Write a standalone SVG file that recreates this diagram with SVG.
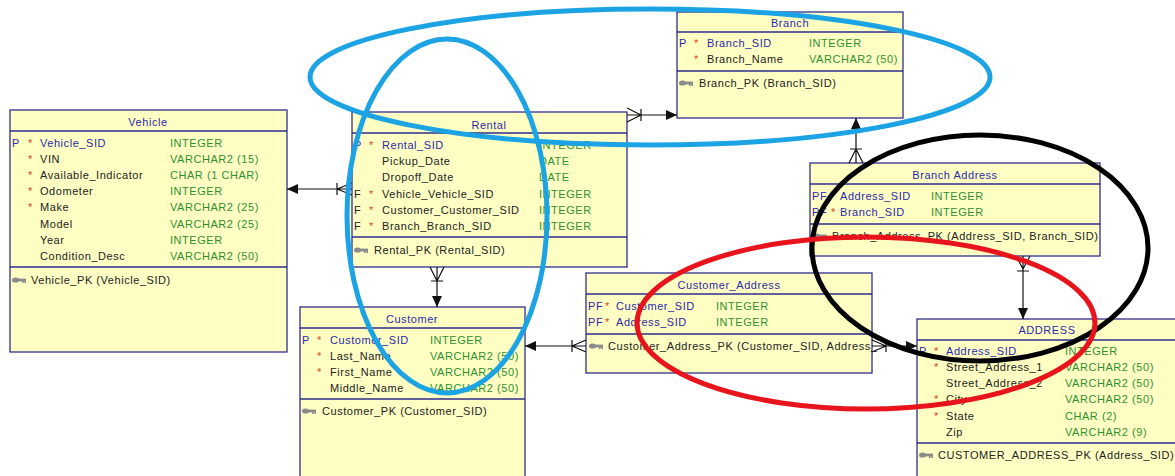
<svg xmlns="http://www.w3.org/2000/svg" width="1175" height="476" viewBox="0 0 1175 476">
  <style>
    .box { fill: #ffffc4; stroke: #2e2e8e; stroke-width: 1.3; }
    .sep { stroke: #2e2e8e; stroke-width: 1.3; }
    text { font-family: "Liberation Sans", Arial, sans-serif; font-size: 11px; letter-spacing: 0.55px; }
    .title { fill: #2a2aa8; text-anchor: middle; }
    .pkname { fill: #2a2aa8; }
    .name { fill: #222; }
    .type { fill: #2f8f2f; }
    .flag { fill: #2a2aa8; }
    .fflag { fill: #222; }
    .star { fill: #d8461e; }
    .key { fill: #222; }
    .conn { stroke: #111; stroke-width: 1.2; fill: none; }
    .head { fill: #111; }
    .mark { fill: none; stroke-width: 5; }
  </style>
  <defs>
    <!-- small key glyph used before primary-key constraints -->
    <g id="keyicon">
      <ellipse cx="3.5" cy="0" rx="3.5" ry="2.6" fill="#8a8a8a"/>
      <rect x="5" y="-1.4" width="9" height="2.8" fill="#8a8a8a"/>
      <rect x="10" y="1" width="1.6" height="2" fill="#8a8a8a"/>
      <rect x="12.4" y="1" width="1.6" height="2" fill="#8a8a8a"/>
    </g>
  </defs>
  <rect width="1175" height="476" fill="#ffffff"/>

  <!-- Vehicle -->
  <g id="vehicle">
    <rect class="box" x="10" y="110" width="277" height="242"/>
    <line class="sep" x1="10" y1="131" x2="287" y2="131"/>
    <line class="sep" x1="10" y1="267" x2="287" y2="267"/>
    <text class="title" x="148" y="126">Vehicle</text>
    <text class="flag" x="12" y="147">P</text>
    <text class="star" x="28" y="147">*</text><text class="pkname" x="40" y="147">Vehicle_SID</text><text class="type" x="170" y="147">INTEGER</text>
    <text class="star" x="28" y="163">*</text><text class="name" x="40" y="163">VIN</text><text class="type" x="170" y="163">VARCHAR2 (15)</text>
    <text class="star" x="28" y="179">*</text><text class="name" x="40" y="179">Available_Indicator</text><text class="type" x="170" y="179">CHAR (1 CHAR)</text>
    <text class="star" x="28" y="195">*</text><text class="name" x="40" y="195">Odometer</text><text class="type" x="170" y="195">INTEGER</text>
    <text class="star" x="28" y="211">*</text><text class="name" x="40" y="211">Make</text><text class="type" x="170" y="211">VARCHAR2 (25)</text>
    <text class="name" x="40" y="228">Model</text><text class="type" x="170" y="228">VARCHAR2 (25)</text>
    <text class="name" x="40" y="244">Year</text><text class="type" x="170" y="244">INTEGER</text>
    <text class="name" x="40" y="260">Condition_Desc</text><text class="type" x="170" y="260">VARCHAR2 (50)</text>
    <use href="#keyicon" x="12" y="280"/>
    <text class="key" x="31" y="284">Vehicle_PK (Vehicle_SID)</text>
  </g>

  <!-- Rental -->
  <g id="rental">
    <rect class="box" x="352" y="112" width="275" height="155"/>
    <line class="sep" x1="352" y1="133" x2="627" y2="133"/>
    <line class="sep" x1="352" y1="237" x2="627" y2="237"/>
    <text class="title" x="489" y="129">Rental</text>
    <text class="flag" x="354" y="149">P</text>
    <text class="star" x="369" y="149">*</text><text class="pkname" x="382" y="149">Rental_SID</text><text class="type" x="539" y="149">INTEGER</text>
    <text class="name" x="382" y="165">Pickup_Date</text><text class="type" x="539" y="165">DATE</text>
    <text class="name" x="382" y="181">Dropoff_Date</text><text class="type" x="539" y="181">DATE</text>
    <text class="fflag" x="354" y="198">F</text><text class="star" x="369" y="198">*</text><text class="name" x="382" y="198">Vehicle_Vehicle_SID</text><text class="type" x="539" y="198">INTEGER</text>
    <text class="fflag" x="354" y="214">F</text><text class="star" x="369" y="214">*</text><text class="name" x="382" y="214">Customer_Customer_SID</text><text class="type" x="539" y="214">INTEGER</text>
    <text class="fflag" x="354" y="230">F</text><text class="star" x="369" y="230">*</text><text class="name" x="382" y="230">Branch_Branch_SID</text><text class="type" x="539" y="230">INTEGER</text>
    <use href="#keyicon" x="354" y="250"/>
    <text class="key" x="374" y="254">Rental_PK (Rental_SID)</text>
  </g>

  <!-- Branch -->
  <g id="branch">
    <rect class="box" x="677" y="12" width="226" height="106"/>
    <line class="sep" x1="677" y1="32" x2="903" y2="32"/>
    <line class="sep" x1="677" y1="71" x2="903" y2="71"/>
    <text class="title" x="790" y="27">Branch</text>
    <text class="flag" x="679" y="47">P</text>
    <text class="star" x="694" y="47">*</text><text class="pkname" x="707" y="47">Branch_SID</text><text class="type" x="809" y="47">INTEGER</text>
    <text class="star" x="694" y="63">*</text><text class="name" x="707" y="63">Branch_Name</text><text class="type" x="809" y="63">VARCHAR2 (50)</text>
    <use href="#keyicon" x="679" y="83"/>
    <text class="key" x="699" y="87">Branch_PK (Branch_SID)</text>
  </g>

  <!-- Branch Address -->
  <g id="branch-address">
    <rect class="box" x="810" y="163" width="290" height="93"/>
    <line class="sep" x1="810" y1="184" x2="1100" y2="184"/>
    <line class="sep" x1="810" y1="224" x2="1100" y2="224"/>
    <text class="title" x="955" y="179">Branch Address</text>
    <text class="flag" x="812" y="200">PF</text><text class="star" x="831" y="200">*</text><text class="pkname" x="840" y="200">Address_SID</text><text class="type" x="931" y="200">INTEGER</text>
    <text class="flag" x="812" y="216">PF</text><text class="star" x="831" y="216">*</text><text class="pkname" x="840" y="216">Branch_SID</text><text class="type" x="931" y="216">INTEGER</text>
    <use href="#keyicon" x="813" y="236"/>
    <text class="key" x="832" y="240">Branch_Address_PK (Address_SID, Branch_SID)</text>
  </g>

  <!-- Customer -->
  <g id="customer">
    <rect class="box" x="300" y="307" width="225" height="200"/>
    <line class="sep" x1="300" y1="328" x2="525" y2="328"/>
    <line class="sep" x1="300" y1="399" x2="525" y2="399"/>
    <text class="title" x="412" y="323">Customer</text>
    <text class="flag" x="302" y="344">P</text>
    <text class="star" x="317" y="344">*</text><text class="pkname" x="330" y="344">Customer_SID</text><text class="type" x="430" y="344">INTEGER</text>
    <text class="star" x="317" y="360">*</text><text class="name" x="330" y="360">Last_Name</text><text class="type" x="430" y="360">VARCHAR2 (50)</text>
    <text class="star" x="317" y="376">*</text><text class="name" x="330" y="376">First_Name</text><text class="type" x="430" y="376">VARCHAR2 (50)</text>
    <text class="name" x="330" y="392">Middle_Name</text><text class="type" x="430" y="392">VARCHAR2 (50)</text>
    <use href="#keyicon" x="302" y="411"/>
    <text class="key" x="322" y="415">Customer_PK (Customer_SID)</text>
  </g>

  <!-- Customer_Address -->
  <g id="customer-address">
    <rect class="box" x="586" y="273" width="286" height="100"/>
    <line class="sep" x1="586" y1="294" x2="872" y2="294"/>
    <line class="sep" x1="586" y1="334" x2="872" y2="334"/>
    <text class="title" x="729" y="289">Customer_Address</text>
    <text class="flag" x="588" y="310">PF</text><text class="star" x="605" y="310">*</text><text class="pkname" x="616" y="310">Customer_SID</text><text class="type" x="716" y="310">INTEGER</text>
    <text class="flag" x="588" y="326">PF</text><text class="star" x="605" y="326">*</text><text class="pkname" x="616" y="326">Address_SID</text><text class="type" x="716" y="326">INTEGER</text>
    <use href="#keyicon" x="589" y="346"/>
    <text class="key" x="608" y="350">Customer_Address_PK (Customer_SID, Address_</text>
  </g>

  <!-- ADDRESS -->
  <g id="address">
    <rect class="box" x="917" y="319" width="300" height="200"/>
    <line class="sep" x1="917" y1="340" x2="1217" y2="340"/>
    <line class="sep" x1="917" y1="443" x2="1217" y2="443"/>
    <text class="title" x="1047" y="334">ADDRESS</text>
    <text class="flag" x="919" y="355">P</text>
    <text class="star" x="934" y="355">*</text><text class="pkname" x="946" y="355">Address_SID</text><text class="type" x="1065" y="355">INTEGER</text>
    <text class="star" x="934" y="371">*</text><text class="name" x="946" y="371">Street_Address_1</text><text class="type" x="1065" y="371">VARCHAR2 (50)</text>
    <text class="name" x="946" y="387">Street_Address_2</text><text class="type" x="1065" y="387">VARCHAR2 (50)</text>
    <text class="star" x="934" y="403">*</text><text class="name" x="946" y="403">City</text><text class="type" x="1065" y="403">VARCHAR2 (50)</text>
    <text class="star" x="934" y="420">*</text><text class="name" x="946" y="420">State</text><text class="type" x="1065" y="420">CHAR (2)</text>
    <text class="name" x="946" y="436">Zip</text><text class="type" x="1065" y="436">VARCHAR2 (9)</text>
    <use href="#keyicon" x="919" y="455"/>
    <text class="key" x="938" y="459">CUSTOMER_ADDRESS_PK (Address_SID)</text>
  </g>

  <!-- Relationships: crow's foot on the many side, filled arrow on the referenced side -->
  <g id="connectors">
    <!-- Rental to Vehicle -->
    <path class="conn" d="M287 189 H352 M337 183 V195 M337 189 L352 183 M337 189 L352 195"/>
    <path class="head" d="M287 189 L298 184 L298 194 Z"/>
    <!-- Rental to Branch -->
    <path class="conn" d="M627 115 H677 M641 109 V121 M641 115 L627 108 M641 115 L627 122"/>
    <path class="head" d="M677 115 L666 110 L666 120 Z"/>
    <!-- Branch Address to Branch -->
    <path class="conn" d="M856 118 V163 M850 149 H862 M856 149 L849 163 M856 149 L863 163"/>
    <path class="head" d="M856 118 L851 129 L861 129 Z"/>
    <!-- Rental to Customer -->
    <path class="conn" d="M437 267 V307 M431 281 H443 M437 281 L430 267 M437 281 L444 267"/>
    <path class="head" d="M437 307 L432 296 L442 296 Z"/>
    <!-- Customer_Address to Customer -->
    <path class="conn" d="M525 346 H586 M572 340 V352 M572 346 L586 340 M572 346 L586 352"/>
    <path class="head" d="M525 346 L536 341 L536 351 Z"/>
    <!-- Customer_Address to ADDRESS -->
    <path class="conn" d="M872 346 H917 M886 340 V352 M886 346 L872 340 M886 346 L872 352"/>
    <path class="head" d="M917 346 L906 341 L906 351 Z"/>
    <!-- Branch Address to ADDRESS -->
    <path class="conn" d="M1023 256 V319 M1017 271 H1029 M1023 269 L1016 256 M1023 269 L1030 256"/>
    <path class="head" d="M1023 319 L1018 308 L1028 308 Z"/>
  </g>

  <!-- Hand-drawn highlight rings -->
  <g id="highlights">
    <ellipse class="mark" cx="650" cy="77" rx="340" ry="68" stroke="#1ba3e3"/>
    <ellipse class="mark" cx="447" cy="216" rx="100" ry="177" stroke="#1ba3e3"/>
    <ellipse class="mark" cx="980" cy="248" rx="168" ry="113" stroke="#000000"/>
    <ellipse class="mark" cx="866" cy="323" rx="229" ry="86" stroke="#e8141c"/>
  </g>
</svg>
